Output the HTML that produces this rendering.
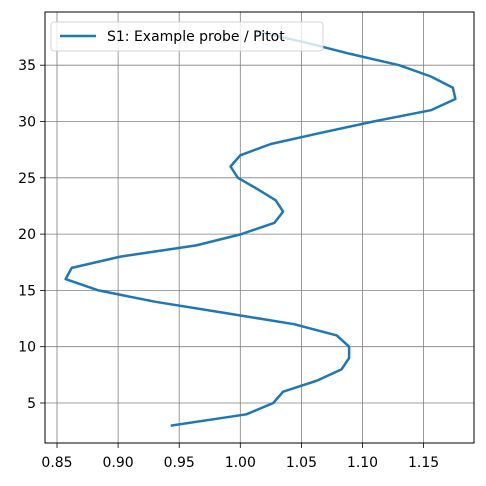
<!DOCTYPE html>
<html><head><meta charset="utf-8"><style>
html,body{margin:0;padding:0;background:#fff;}
svg{display:block;font-family:"DejaVu Sans","Liberation Sans",sans-serif;}
</style></head><body>
<svg id="chart" width="486" height="486" viewBox="0 0 486 486" xmlns="http://www.w3.org/2000/svg">
<rect width="486" height="486" fill="#fff"/>
<g id="grid"></g>
<g id="series"></g>
<g id="legend">
  <rect x="51" y="22" width="272" height="29" rx="3" fill="#fff" fill-opacity="0.8" stroke="#ccc" stroke-opacity="0.8"/>
  <line x1="60" y1="36" x2="96" y2="36" stroke="#1f77b4" stroke-width="2.5"/>
  <text x="107" y="41" font-size="14" fill="#000">S1: Example probe / Pitot</text>
</g>
<rect x="45" y="12" width="429" height="431" fill="none" stroke="#000" stroke-width="1"/>
<g id="axes"></g>
</svg>
<script>
const xTicks = [0.85, 0.90, 0.95, 1.00, 1.05, 1.10, 1.15];
const xTickLabels = ["0.85", "0.90", "0.95", "1.00", "1.05", "1.10", "1.15"];
const yTicks = [5, 10, 15, 20, 25, 30, 35];
const yTickLabels = ["5", "10", "15", "20", "25", "30", "35"];
const heights = [3,4,5,6,7,8,9,10,11,12,13,14,15,16,17,18,19,20,21,22,23,24,25,26,27,28,29,30,31,32,33,34,35,36,37,38];
const ratios = [0.944,1.005,1.027,1.035,1.063,1.083,1.089,1.089,1.079,1.044,0.987,0.930,0.884,0.857,0.862,0.902,0.964,1.001,1.028,1.035,1.029,1.014,0.998,0.992,1.000,1.025,1.066,1.109,1.156,1.176,1.174,1.156,1.130,1.090,1.054,1.013];

const NS = "http://www.w3.org/2000/svg";
function xs(v){ return 57 + (v - 0.85) / 0.05 * 61.1; }
function ys(v){ return 403 - (v - 5) / 5 * 56.3; }
function mk(tag, attrs, parent){
  const el = document.createElementNS(NS, tag);
  for (const k in attrs) el.setAttribute(k, attrs[k]);
  parent.appendChild(el);
  return el;
}
const grid = document.getElementById('grid');
const axes = document.getElementById('axes');
xTicks.forEach((t, i) => {
  const x = xs(t);
  const g = mk('line', {x1:x, x2:x, y1:12, y2:443, stroke:'#808080', 'stroke-width':0.8}, grid);
  
  
  const tk = mk('line', {x1:x, x2:x, y1:443, y2:448, stroke:'#000', 'stroke-width':0.8}, axes);
  
  
  const tx = mk('text', {x:x, y:467, 'font-size':14, 'text-anchor':'middle', fill:'#000'}, axes);
  tx.textContent = xTickLabels[i];
  
  
});
yTicks.forEach((t, i) => {
  const y = ys(t);
  const g = mk('line', {x1:45, x2:474, y1:y, y2:y, stroke:'#808080', 'stroke-width':0.8}, grid);
  
  
  const tk = mk('line', {x1:40, x2:45, y1:y, y2:y, stroke:'#000', 'stroke-width':0.8}, axes);
  
  
  const tx = mk('text', {x:36, y:y + 5, 'font-size':14, 'text-anchor':'end', fill:'#000'}, axes);
  tx.textContent = yTickLabels[i];
  
  
});
const pts = heights.map((h, i) => xs(ratios[i]).toFixed(1) + ',' + ys(h).toFixed(1)).join(' ');
const line = mk('polyline', {points:pts, fill:'none', stroke:'#1f77b4', 'stroke-width':2.5, 'stroke-linejoin':'round', 'stroke-linecap':'square'}, document.getElementById('series'));


</script>
</body></html>
